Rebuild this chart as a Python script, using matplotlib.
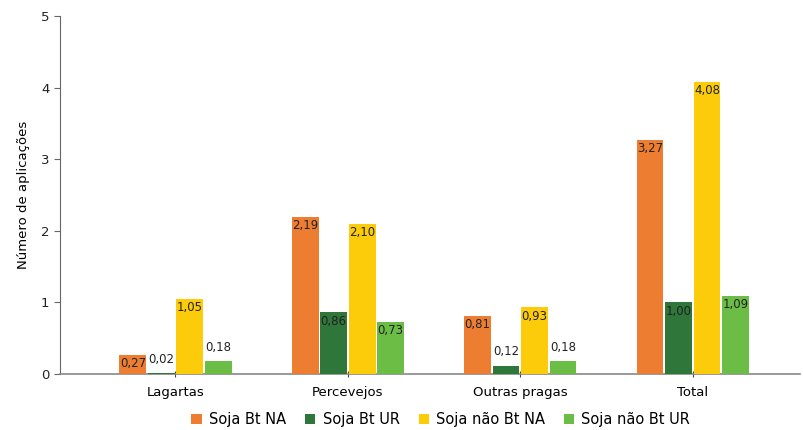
import numpy as np
import matplotlib.pyplot as plt

categories = ["Lagartas", "Percevejos", "Outras pragas", "Total"]
series = ["Soja Bt NA", "Soja Bt UR", "Soja não Bt NA", "Soja não Bt UR"]
bt_na = [0.27, 2.19, 0.81, 3.27]
bt_ur = [0.02, 0.86, 0.12, 1.00]
nbt_na = [1.05, 2.10, 0.93, 4.08]
nbt_ur = [0.18, 0.73, 0.18, 1.09]
colors = ["#ED7D31", "#2E7639", "#FCCC0A", "#6CBD45"]

values = [bt_na, bt_ur, nbt_na, nbt_ur]

fig = plt.figure(figsize=(8.04, 4.30), dpi=100)
ax = fig.add_axes([0.0746, 0.130, 0.92, 0.833])

x = np.arange(len(categories))
pitch = 0.165
width = 0.155
for i, (vals, name, col) in enumerate(zip(values, series, colors)):
    pos = x + (i - 1.5) * pitch
    ax.bar(pos, vals, width, color=col, linewidth=0, label=name, zorder=3)
    for xp, v in zip(pos, vals):
        txt = f"{v:.2f}".replace(".", ",")
        if v >= 0.25:
            ax.text(xp, v - 0.03, txt, ha="center", va="top", fontsize=8.5, color="#222222", zorder=4)
        else:
            ax.text(xp, v + 0.1, txt, ha="center", va="bottom", fontsize=8.5, color="#222222", zorder=4)

ax.set_xlim(-0.67, 3.62)
ax.set_ylim(0, 5)
ax.set_yticks(range(6))
ax.set_xticks(x)
ax.set_xticklabels(categories, fontsize=9.5)
ax.tick_params(axis="y", labelsize=9.5, colors="#222222", length=4, color="#666666")
ax.tick_params(axis="x", length=5, color="#444444", direction="inout", pad=6)
ax.set_ylabel("Número de aplicações", fontsize=9.5, labelpad=8)

for s in ["top", "right"]:
    ax.spines[s].set_visible(False)
ax.spines["left"].set_color("#666666")
ax.spines["bottom"].set_color("#888888")
ax.spines["bottom"].set_linewidth(1.2)

ax.legend(loc="center", bbox_to_anchor=(0.515, -0.128), ncol=4, frameon=False,
          fontsize=10.5, handlelength=0.7, handleheight=0.7, handletextpad=0.5, columnspacing=1.3)

fig.savefig("out.png", dpi=100)
